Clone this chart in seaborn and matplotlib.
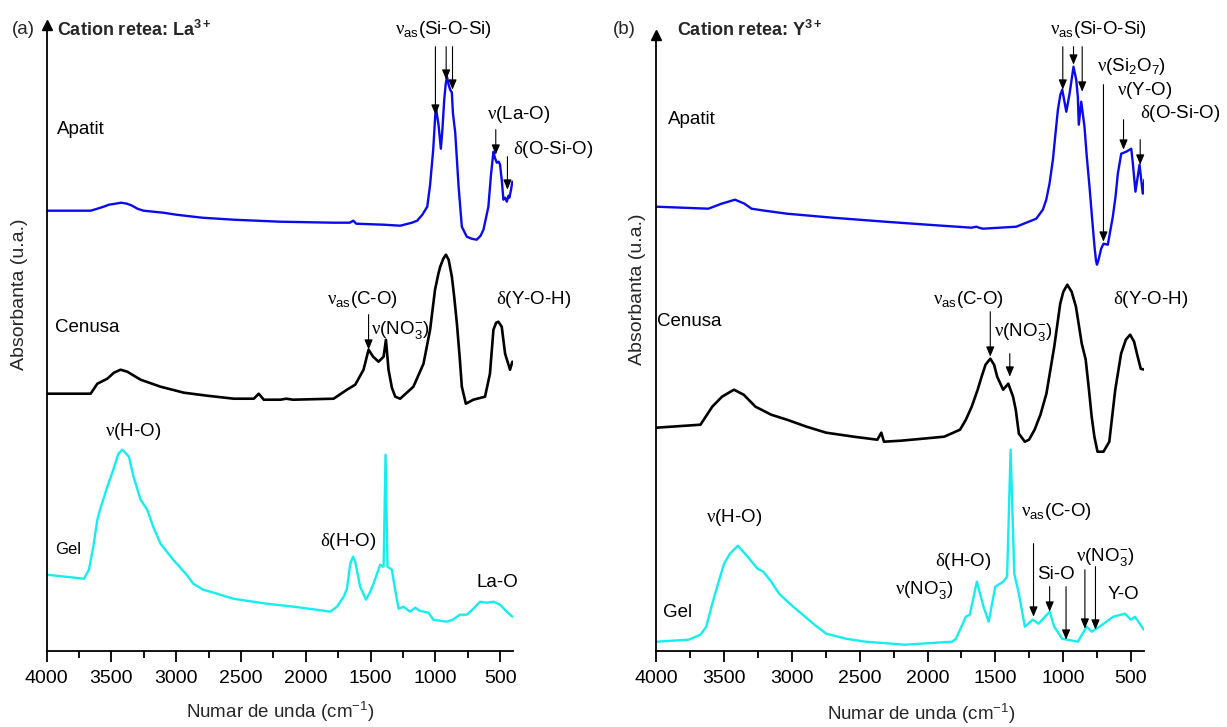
import numpy as np
import pandas as pd
import matplotlib
matplotlib.use("Agg")
import matplotlib.pyplot as plt
import seaborn as sns

# ---------------- data ----------------
# Panel (a): La3+
a_apatit_wn = [4000, 3661, 3609, 3560, 3520, 3470, 3424, 3380, 3340, 3300, 3252, 3100, 3000, 2800, 2558,
               2200, 1787, 1660, 1633, 1610, 1400, 1270, 1180, 1140, 1100, 1062, 1040, 1016, 1000, 993,
               975, 957, 945, 931, 920, 910, 897, 885, 872, 864, 846, 820, 795, 757, 720, 680, 650, 628,
               590, 570, 551, 540, 525, 510, 500, 487, 474, 460, 448, 435, 428, 415, 405]
a_apatit_ab = [4.40, 4.40, 4.42, 4.44, 4.46, 4.47, 4.48, 4.47, 4.45, 4.42, 4.40, 4.38, 4.36, 4.33, 4.31,
               4.29, 4.28, 4.28, 4.30, 4.27, 4.26, 4.25, 4.28, 4.30, 4.36, 4.44, 4.66, 5.01, 5.36, 5.41,
               5.26, 5.02, 5.21, 5.51, 5.66, 5.74, 5.66, 5.61, 5.58, 5.38, 5.18, 4.64, 4.24, 4.14, 4.12, 4.11,
               4.15, 4.21, 4.44, 4.76, 4.99, 4.93, 4.88, 4.89, 4.86, 4.71, 4.51, 4.53, 4.49, 4.55, 4.53, 4.61,
               4.69]

a_cenusa_wn = [4000, 3661, 3609, 3532, 3481, 3430, 3378, 3275, 3121, 2941, 2761, 2556, 2401, 2363, 2324,
               2196, 2150, 2100, 1785, 1682, 1618, 1554, 1515, 1480, 1438, 1399, 1381, 1361, 1335, 1309,
               1271, 1169, 1091, 1040, 1002, 976, 962, 938, 918, 897, 872, 854, 833, 812, 795, 764, 706,
               616, 578, 551, 530, 513, 487, 461, 423, 405]
a_cenusa_ab = [2.57, 2.57, 2.67, 2.72, 2.78, 2.81, 2.79, 2.71, 2.64, 2.58, 2.55, 2.52, 2.52, 2.57, 2.51,
               2.51, 2.52, 2.51, 2.52, 2.61, 2.66, 2.81, 3.01, 2.94, 2.89, 2.94, 3.11, 2.81, 2.63, 2.54,
               2.52, 2.64, 2.87, 3.21, 3.61, 3.77, 3.84, 3.92, 3.96, 3.91, 3.74, 3.54, 3.27, 2.94, 2.64, 2.47,
               2.51, 2.54, 2.77, 3.21, 3.28, 3.29, 3.24, 2.97, 2.81, 2.89]

a_gel_wn = [4000, 3712, 3674, 3640, 3609, 3588, 3532, 3486, 3447, 3416, 3365, 3330, 3275, 3224, 3178,
            3121, 3024, 2920, 2869, 2792, 2684, 2560, 2303, 2093, 1918, 1810, 1759, 1707, 1682, 1656,
            1635, 1618, 1580, 1535, 1502, 1477, 1425, 1399, 1384, 1369, 1335, 1310, 1283, 1245, 1195,
            1155, 1122, 1053, 1015, 912, 865, 809, 757, 706, 655, 604, 551, 500, 448, 405]
a_gel_ab = [0.76, 0.72, 0.81, 1.04, 1.31, 1.41, 1.64, 1.81, 1.97, 2.01, 1.94, 1.74, 1.51, 1.41, 1.24,
            1.07, 0.91, 0.76, 0.67, 0.61, 0.57, 0.52, 0.47, 0.44, 0.41, 0.39, 0.44, 0.54, 0.62, 0.87,
            0.94, 0.89, 0.64, 0.51, 0.59, 0.67, 0.86, 0.84, 1.96, 0.84, 0.81, 0.61, 0.42, 0.44, 0.39,
            0.43, 0.40, 0.38, 0.31, 0.29, 0.31, 0.36, 0.36, 0.42, 0.49, 0.48, 0.49, 0.46, 0.39, 0.34]

# Panel (b): Y3+
b_apatit_wn = [4000, 3617, 3520, 3420, 3350, 3298, 3200, 3037, 2700, 2312, 2000, 1674, 1640, 1620, 1591,
               1345, 1198, 1149, 1124, 1100, 1075, 1056, 1038, 1020, 1006, 976, 952, 923, 903, 891, 884,
               866, 842, 825, 805, 785, 768, 757, 750, 740, 719, 702, 670, 633, 613, 596, 571, 534, 497,
               485, 466, 436, 412, 400]
b_apatit_ab = [4.44, 4.42, 4.47, 4.51, 4.47, 4.42, 4.40, 4.37, 4.33, 4.29, 4.26, 4.23, 4.24, 4.23, 4.22,
               4.24, 4.32, 4.41, 4.51, 4.67, 4.91, 5.17, 5.41, 5.56, 5.61, 5.39, 5.57, 5.84, 5.71, 5.54, 5.26,
               5.49, 5.24, 4.94, 4.64, 4.31, 4.04, 3.90, 3.86, 3.90, 4.02, 4.07, 4.06, 4.34, 4.54, 4.77, 4.97,
               4.99, 5.02, 4.87, 4.59, 4.86, 4.57, 4.71]

b_cenusa_wn = [4000, 3675, 3588, 3516, 3428, 3356, 3269, 3153, 3037, 2892, 2747, 2544, 2370, 2341, 2321,
               2196, 1877, 1760, 1717, 1674, 1630, 1601, 1572, 1537, 1509, 1486, 1442, 1404, 1369, 1349,
               1326, 1282, 1251, 1210, 1167, 1123, 1065, 1021, 998, 969, 937, 905, 862, 833, 809, 789,
               769, 746, 702, 659, 615, 572, 537, 505, 476, 455, 427, 400]
b_cenusa_ab = [2.23, 2.26, 2.44, 2.54, 2.61, 2.56, 2.44, 2.36, 2.31, 2.24, 2.18, 2.14, 2.11, 2.18, 2.09,
               2.10, 2.14, 2.21, 2.31, 2.44, 2.61, 2.74, 2.86, 2.92, 2.86, 2.74, 2.61, 2.67, 2.54, 2.41,
               2.17, 2.09, 2.11, 2.21, 2.36, 2.57, 3.04, 3.47, 3.59, 3.66, 3.59, 3.44, 3.07, 2.91, 2.61, 2.34,
               2.14, 1.99, 1.99, 2.09, 2.61, 2.97, 3.11, 3.16, 3.09, 2.97, 2.82, 2.81]

b_gel_wn = [4000, 3762, 3675, 3632, 3588, 3545, 3501, 3458, 3399, 3327, 3254, 3211, 3153, 3095, 3008,
            2921, 2834, 2747, 2602, 2457, 2167, 1818, 1790, 1760, 1717, 1688, 1636, 1587, 1549, 1500,
            1442, 1413, 1387, 1360, 1326, 1282, 1224, 1181, 1099, 1065, 1007, 891, 826, 789, 731, 630,
            543, 500, 470, 404]
b_gel_ab = [0.09, 0.11, 0.16, 0.24, 0.47, 0.67, 0.87, 0.97, 1.05, 0.94, 0.82, 0.79, 0.69, 0.57, 0.46,
            0.36, 0.26, 0.17, 0.12, 0.09, 0.06, 0.09, 0.12, 0.21, 0.34, 0.36, 0.69, 0.44, 0.29, 0.64,
            0.69, 0.74, 2.01, 0.77, 0.57, 0.24, 0.31, 0.27, 0.39, 0.24, 0.12, 0.09, 0.24, 0.19, 0.24, 0.34,
            0.37, 0.31, 0.34, 0.21]

x_ticks = [4000, 3500, 3000, 2500, 2000, 1500, 1000, 500]
x_minor = [3750, 3250, 2750, 2250, 1750, 1250, 750]
x_label = "Numar de unda (cm$^{-1}$)"
y_label = "Absorbanta (u.a.)"

NU = r"$\mathcal{\nu}$"
DE = r"$\mathcal{\delta}$"

# ---------------- styling ----------------
sns.set_theme(style="ticks")
plt.rcParams["font.family"] = ["Liberation Sans", "DejaVu Sans"]
plt.rcParams["mathtext.fontset"] = "custom"
plt.rcParams["mathtext.rm"] = "Liberation Sans"
plt.rcParams["mathtext.it"] = "Liberation Sans:italic"
plt.rcParams["mathtext.bf"] = "Liberation Sans:bold"
plt.rcParams["mathtext.cal"] = "Liberation Serif"
plt.rcParams["mathtext.default"] = "regular"

W, H = 1227, 727
fig = plt.figure(figsize=(W / 100, H / 100), dpi=100)

BLUE = "#0a0aee"
BLACK = "#000000"
CYAN = "#14eeee"
FS = 13.5


def px_axes(left, right, top, bottom):
    return fig.add_axes([left / W, (H - bottom) / H, (right - left) / W, (bottom - top) / H])


def setup(ax, ytop):
    ax.set_xlim(4000, 400)
    ax.set_ylim(0, ytop)
    ax.set_yticks([])
    ax.set_xticks(x_ticks)
    ax.set_xticks(x_minor, minor=True)
    ax.set_xticklabels([str(t) for t in x_ticks])
    ax.tick_params(axis="x", which="major", direction="out", length=8, width=1.3,
                   labelsize=14, pad=6, color="black", labelcolor="black")
    ax.tick_params(axis="x", which="minor", direction="out", length=5, width=1.3, color="black")
    for s in ["top", "right"]:
        ax.spines[s].set_visible(False)
    ax.spines["left"].set_linewidth(1.3)
    ax.spines["bottom"].set_linewidth(1.3)
    ax.spines["left"].set_color("black")
    ax.spines["bottom"].set_color("black")
    ax.set_xlabel("")
    ax.set_ylabel("")
    ax.patch.set_alpha(0)


def draw(ax, wn, ab, color, lw):
    df = pd.DataFrame({"wn": wn, "ab": ab})
    sns.lineplot(data=df, x="wn", y="ab", ax=ax, color=color, lw=lw,
                 estimator=None, sort=False, legend=False)


def arrow(ax, x, y0, y1):
    ax.annotate("", xy=(x, y1), xytext=(x, y0),
                arrowprops=dict(arrowstyle="-|>,head_length=0.6,head_width=0.25",
                                color="black", lw=0.8, shrinkA=0, shrinkB=0,
                                mutation_scale=10), annotation_clip=False)


def label(ax, x, y, s, fs=FS):
    ax.text(x, y, s, fontsize=fs, ha="left", va="center", color="black", clip_on=False)


# ---------------- panel (a) ----------------
axa = px_axes(46.7, 513, 25, 650.7)
draw(axa, a_apatit_wn, a_apatit_ab, BLUE, 1.7)
draw(axa, a_cenusa_wn, a_cenusa_ab, BLACK, 1.9)
draw(axa, a_gel_wn, a_gel_ab, CYAN, 1.7)
setup(axa, (650.7 - 25) / 100)
axa.plot([0], [1], marker="^", ms=7, color="black", transform=axa.transAxes, clip_on=False)

label(axa, 1310, 6.21, NU + "$_{as}$(Si-O-Si)")
for xw, tip in [(999, 5.36), (916, 5.71), (867, 5.61)]:
    arrow(axa, xw, 6.04, tip)
label(axa, 600, 5.36, NU + "(La-O)")
arrow(axa, 533, 5.21, 4.96)
label(axa, 400, 5.01, DE + "(O-Si-O)")
arrow(axa, 443, 4.94, 4.61)
label(axa, 3920, 5.21, "Apatit")
label(axa, 3936, 3.23, "Cenusa")
label(axa, 1836, 3.51, NU + "$_{as}$(C-O)")
arrow(axa, 1515, 3.36, 3.01)
label(axa, 1496, 3.21, NU + "(NO$_3^{-}$)")
label(axa, 530, 3.51, DE + "(Y-O-H)")
label(axa, 3936, 1.01, "Gel", fs=12)
label(axa, 3550, 2.19, NU + "(H-O)")
label(axa, 1889, 1.09, DE + "(H-O)")
label(axa, 685, 0.68, "La-O")

fig.text(12 / W, 1 - 30 / H, "(a)", fontsize=FS, ha="left", va="center")
fig.text(57 / W, 1 - 30 / H, "Cation retea: La$^{3+}$", fontsize=13, fontweight="bold",
         ha="left", va="center")
fig.text(20 / W, 1 - 294 / H, y_label, fontsize=14, rotation=90, ha="center", va="center")
fig.text(280 / W, 1 - 712 / H, x_label, fontsize=13.5, ha="center", va="center")

# ---------------- panel (b) ----------------
axb = px_axes(656.4, 1144.4, 35, 650.7)
draw(axb, b_apatit_wn, b_apatit_ab, BLUE, 1.7)
draw(axb, b_cenusa_wn, b_cenusa_ab, BLACK, 1.9)
draw(axb, b_gel_wn, b_gel_ab, CYAN, 1.7)
setup(axb, (650.7 - 35) / 100)
axb.plot([0], [1], marker="^", ms=7, color="black", transform=axb.transAxes, clip_on=False)

label(axb, 1097, 6.21, NU + "$_{as}$(Si-O-Si)")
for xw, tip in [(1002, 5.61), (923, 5.86), (859, 5.59)]:
    arrow(axb, xw, 6.04, tip)
label(axb, 747, 5.84, NU + "(Si$_2$O$_7$)")
arrow(axb, 702, 5.66, 4.09)
label(axb, 605, 5.60, NU + "(Y-O)")
arrow(axb, 554, 5.31, 5.01)
label(axb, 436, 5.37, DE + "(O-Si-O)")
arrow(axb, 431, 5.11, 4.86)
label(axb, 3915, 5.31, "Apatit")
label(axb, 3996, 3.29, "Cenusa")
label(axb, 1962, 3.51, NU + "$_{as}$(C-O)")
arrow(axb, 1537, 3.39, 2.94)
label(axb, 1513, 3.19, NU + "(NO$_3^{-}$)")
arrow(axb, 1393, 2.97, 2.74)
label(axb, 629, 3.51, DE + "(Y-O-H)")
label(axb, 3951, 0.38, "Gel")
label(axb, 3634, 1.33, NU + "(H-O)")
label(axb, 1947, 0.89, DE + "(H-O)")
label(axb, 2242, 0.61, NU + "(NO$_3^{-}$)")
label(axb, 1313, 1.39, NU + "$_{as}$(C-O)")
arrow(axb, 1218, 1.07, 0.34)
label(axb, 1195, 0.76, "Si-O")
arrow(axb, 1099, 0.64, 0.39)
arrow(axb, 978, 0.64, 0.11)
label(axb, 908, 0.94, NU + "(NO$_3^{-}$)")
arrow(axb, 839, 0.81, 0.22)
arrow(axb, 761, 0.84, 0.21)
label(axb, 671, 0.56, "Y-O")

fig.text(613 / W, 1 - 30 / H, "(b)", fontsize=FS, ha="left", va="center")
fig.text(677 / W, 1 - 30 / H, "Cation retea: Y$^{3+}$", fontsize=13, fontweight="bold",
         ha="left", va="center")
fig.text(638 / W, 1 - 289 / H, y_label, fontsize=14, rotation=90, ha="center", va="center")
fig.text(921 / W, 1 - 714 / H, x_label, fontsize=13.5, ha="center", va="center")

fig.savefig("out.png", dpi=100, facecolor="white")
